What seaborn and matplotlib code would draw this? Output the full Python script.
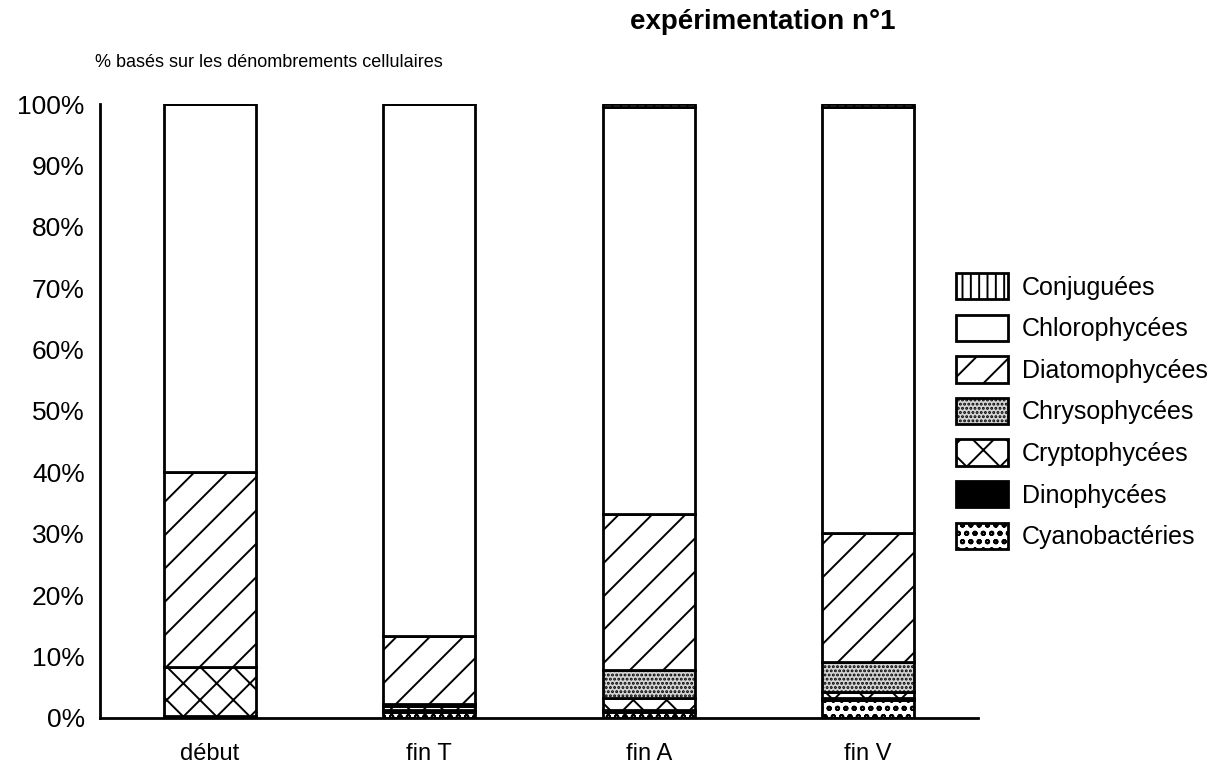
import matplotlib
matplotlib.use("Agg")
import matplotlib.pyplot as plt
import seaborn as sns
import numpy as np

# --- DATA (percent of cell counts) ---
stades = ["début", "fin T", "fin A", "fin V"]
cyanobacteries = [0.3, 1.0, 1.0, 2.9]
dinophycees = [0.0, 0.3, 0.3, 0.4]
cryptophycees = [8.0, 0.6, 1.9, 0.9]
chrysophycees = [0.0, 0.4, 4.6, 5.0]
diatomophycees = [31.7, 11.1, 25.4, 20.9]
chlorophycees = [60.0, 86.6, 66.3, 69.4]
conjuguees = [0.0, 0.0, 0.5, 0.5]

# stacked from bottom to top
series = [
    ("Cyanobactéries", cyanobacteries, "white", "oo"),
    ("Dinophycées", dinophycees, "black", None),
    ("Cryptophycées", cryptophycees, "white", "x"),
    ("Chrysophycées", chrysophycees, "#d4d4d4", "...."),
    ("Diatomophycées", diatomophycees, "white", "/"),
    ("Chlorophycées", chlorophycees, "white", None),
    ("Conjuguées", conjuguees, "white", "||"),
]

sns.set_style("white")
plt.rcParams["font.family"] = ["Liberation Sans", "DejaVu Sans"]
plt.rcParams["text.color"] = "black"
plt.rcParams["xtick.color"] = "black"
plt.rcParams["ytick.color"] = "black"
plt.rcParams["hatch.linewidth"] = 1.4
plt.rcParams["hatch.color"] = "black"

fig = plt.figure(figsize=(12.2, 7.67), dpi=100)
ax = fig.add_axes([0.082, 0.0639, 0.7196, 0.8005])

x = np.arange(len(stades))
bottom = np.zeros(len(stades))
handles = []
for name, vals, color, hatch in series:
    vals = np.array(vals)
    b = ax.bar(x, vals, width=0.42, bottom=bottom, color=color,
               edgecolor="black", linewidth=2, hatch=hatch, label=name)
    handles.append(b)
    bottom += vals

ax.set_xlim(-0.5, 3.5)
ax.set_ylim(0, 100)
ax.set_yticks(np.arange(0, 101, 10))
ax.set_yticklabels([f"{v}%" for v in range(0, 101, 10)], fontsize=19)
ax.set_xticks([0.5, 1.5, 2.5, 3.5])
ax.set_xticklabels([])
ax.set_xticks(x, minor=True)
ax.set_xticklabels(stades, minor=True, fontsize=17)
ax.tick_params(axis="x", which="minor", length=0, pad=18)
ax.tick_params(axis="x", which="major", direction="inout", length=14, width=2)
ax.tick_params(axis="y", direction="inout", length=14, width=2, pad=4)

for side in ["top", "right"]:
    ax.spines[side].set_visible(False)
for side in ["left", "bottom"]:
    ax.spines[side].set_linewidth(2)
    ax.spines[side].set_color("black")

fig.text(0.625, 0.988, "expérimentation n°1", fontsize=20, fontweight="bold",
         ha="center", va="top")
fig.text(0.078, 0.918, "% basés sur les dénombrements cellulaires", fontsize=13,
         ha="left", va="center")

leg = fig.legend(handles[::-1], [s[0] for s in series][::-1],
                 loc="center left", bbox_to_anchor=(0.765, 0.464),
                 frameon=False, fontsize=18, handlelength=2.1, handleheight=1.25,
                 labelspacing=0.6, handletextpad=0.55)

fig.savefig("out.png", dpi=100)
